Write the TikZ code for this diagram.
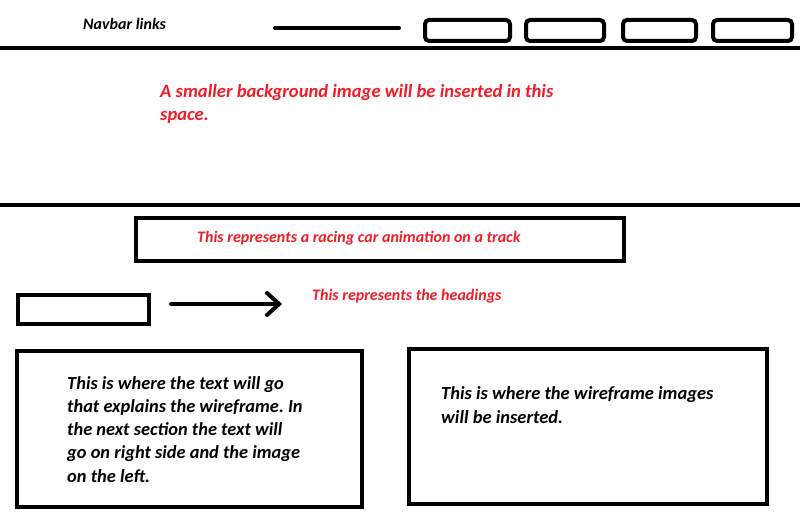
\documentclass[tikz,border=0pt]{standalone}
\usepackage{fontspec}
\setmainfont{Carlito}
\usetikzlibrary{arrows.meta}
\definecolor{wfred}{RGB}{240,28,40}
\frenchspacing
\begin{document}
\begin{tikzpicture}[x=1pt,y=-1pt,
  frame/.style={draw=black,line width=4.5pt},
  navbtn/.style={draw=black,line width=4pt,rounded corners=4pt},
  rule/.style={draw=black,line width=4pt},
  redtxt/.style={text=wfred,font=\bfseries\itshape,inner sep=0pt,anchor=base west,align=left},
  blktxt/.style={text=black,font=\bfseries\itshape,inner sep=0pt,anchor=base west,align=left}]
\useasboundingbox[fill=white] (0,0) rectangle (800,529);
% navbar
\node[blktxt,font=\fontsize{16}{18}\selectfont\bfseries\itshape] (nav) at (83,30) {Navbar links};
\coordinate (l1) at (275,28);
\coordinate (l2) at (399,28);
\draw[line width=4pt,line cap=round] (l1) -- (l2);
\draw[navbtn] (425,20) rectangle (510,41);
\draw[navbtn] (526,20) rectangle (604,41);
\draw[navbtn] (623,20) rectangle (696,41);
\draw[navbtn] (713,20) rectangle (792,41);
\coordinate (r1a) at (0,48); \coordinate (r1b) at (800,48);
\draw[rule] (r1a) -- (r1b);
% hero
\node[redtxt,font=\fontsize{18.6}{23}\selectfont\bfseries\itshape] (hero) at (160,120.5)
  {A smaller background image will be inserted in this\\space.};
\coordinate (r2a) at (0,205); \coordinate (r2b) at (800,205);
\draw[rule] (r2a) -- (r2b);
% animation box
\draw[frame] (136,218) rectangle (624,261);
\node[redtxt,font=\fontsize{16}{18}\selectfont\bfseries\itshape] (anim) at (197,242.5)
  {This represents a racing car animation on a track};
% heading
\node[draw=black,line width=4pt,minimum width=131pt,minimum height=29pt,inner sep=0pt] (hbox) at (83.5,309.5) {};
\node[redtxt,font=\fontsize{16}{18}\selectfont\bfseries\itshape] (htext) at (312,300.5)
  {This represents the headings};
\coordinate (a1) at (171,304); \coordinate (a2) at (282,304);
\draw[line width=4pt,line cap=round,-{Straight Barb[length=12pt,width=22pt,line cap=round]}] (a1) -- (a2);
% text box
\draw[frame] (17,351) rectangle (362,507);
\node[blktxt,font=\fontsize{18.4}{23.25}\selectfont\bfseries\itshape] (t1) at (67,482)
  {This is where the text will go\\that explains the wireframe. In\\the next section the text will\\go on right side and the image\\on the left.};
% image box
\draw[frame] (409,349) rectangle (767,504);
\node[blktxt,font=\fontsize{18.5}{23.25}\selectfont\bfseries\itshape] (t2) at (441,423)
  {This is where the wireframe images\\will be inserted.};
\end{tikzpicture}
\end{document}
